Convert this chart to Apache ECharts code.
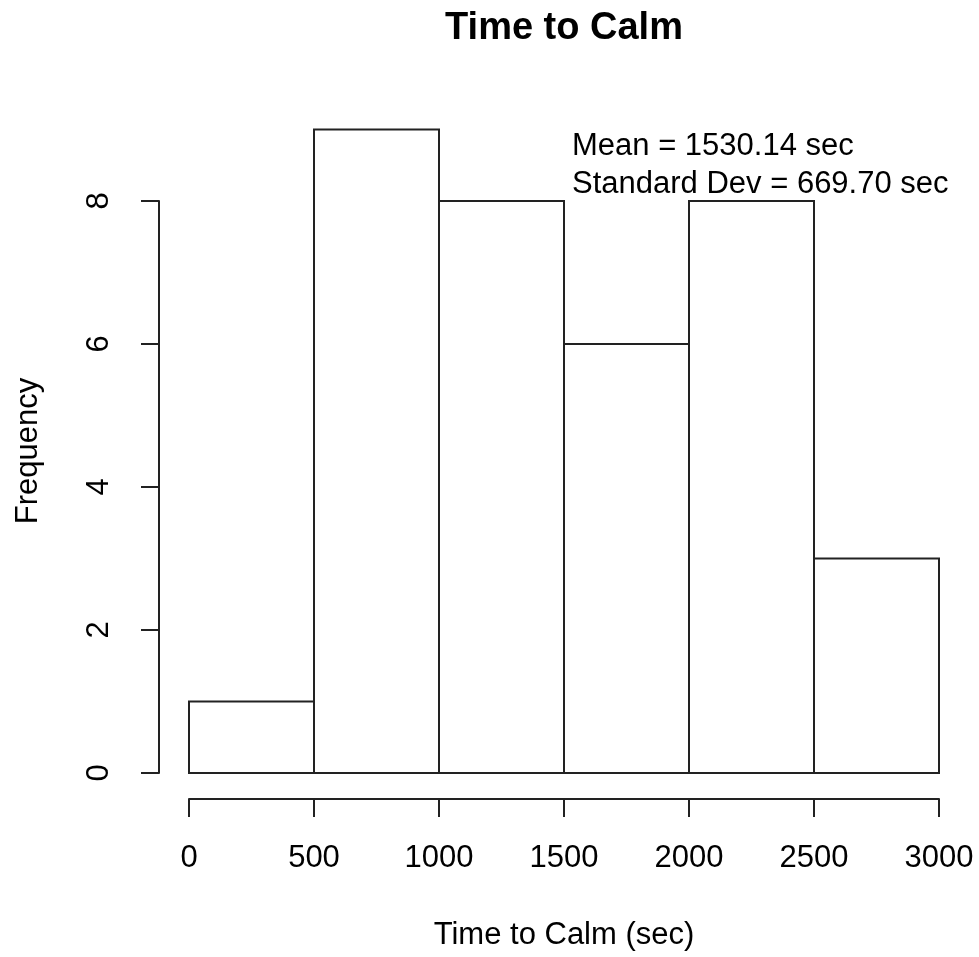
<!DOCTYPE html>
<html>
<head>
<meta charset="utf-8">
<script src="https://cdn.jsdelivr.net/npm/echarts@6/dist/echarts.min.js"></script>
<style>html,body{margin:0;padding:0;background:#fff;}#c{width:979px;height:957px;}</style>
</head>
<body>
<div id="c"></div>
<script>
const binStarts = [0, 500, 1000, 1500, 2000, 2500];
const binEnds = [500, 1000, 1500, 2000, 2500, 3000];
const counts = [1, 9, 8, 6, 8, 3];
const xTicks = [0, 500, 1000, 1500, 2000, 2500, 3000];
const yTicks = [0, 2, 4, 6, 8];
const titleText = 'Time to Calm';
const xLabel = 'Time to Calm (sec)';
const yLabel = 'Frequency';
const statLines = ['Mean = 1530.14 sec', 'Standard Dev = 669.70 sec'];

const FONT = '"Liberation Sans", Arial, sans-serif';
const LINE = '#222';
const chart = echarts.init(document.getElementById('c'), null, {renderer: 'canvas'});
const histData = binStarts.map((s, i) => [s, binEnds[i], counts[i]]);

chart.setOption({
  animation: false,
  backgroundColor: '#fff',
  grid: [
    {left: 189, top: 129.5, width: 750, height: 643.5},
    {left: 189, top: 201, width: 750, height: 572}
  ],
  xAxis: [
    {gridIndex: 0, type: 'value', min: xTicks[0], max: xTicks[xTicks.length - 1], show: false},
    {gridIndex: 1, type: 'value', min: xTicks[0], max: xTicks[xTicks.length - 1], interval: 500,
      offset: 26, position: 'bottom', z: 10,
      axisLine: {show: true, onZero: false, lineStyle: {color: LINE, width: 2}},
      axisTick: {show: true, length: 18, lineStyle: {color: LINE, width: 2}},
      axisLabel: {show: true, margin: 44, color: '#000', fontSize: 31, fontFamily: FONT,
        showMinLabel: true, showMaxLabel: true, formatter: v => String(v)},
      splitLine: {show: false}}
  ],
  yAxis: [
    {gridIndex: 0, type: 'value', min: 0, max: 9, show: false},
    {gridIndex: 1, type: 'value', min: yTicks[0], max: yTicks[yTicks.length - 1], interval: 2,
      offset: 30, position: 'left', z: 10,
      axisLine: {show: true, onZero: false, lineStyle: {color: LINE, width: 2}},
      axisTick: {show: true, length: 18, lineStyle: {color: LINE, width: 2}},
      axisLabel: {show: true, rotate: 90, margin: 44, color: '#000', fontSize: 31, fontFamily: FONT,
        formatter: v => String(v)},
      splitLine: {show: false}}
  ],
  series: [{
    type: 'custom',
    xAxisIndex: 0, yAxisIndex: 0,
    data: histData,
    encode: {x: [0, 1], y: 2},
    renderItem: function (params, api) {
      const p0 = api.coord([api.value(0), 0]);
      const p1 = api.coord([api.value(1), api.value(2)]);
      return {
        type: 'rect',
        shape: {x: p0[0], y: p1[1], width: p1[0] - p0[0], height: p0[1] - p1[1]},
        style: {fill: '#fff', stroke: LINE, lineWidth: 2}
      };
    }
  }],
  graphic: [
    {type: 'text', x: 564, y: 29, style: {text: titleText, font: 'bold 38px ' + FONT, fill: '#000', align: 'center', verticalAlign: 'middle'}},
    {type: 'text', x: 564, y: 935, style: {text: xLabel, font: '31px ' + FONT, fill: '#000', align: 'center', verticalAlign: 'middle'}},
    {type: 'text', x: 28, y: 451, rotation: Math.PI / 2, style: {text: yLabel, font: '31px ' + FONT, fill: '#000', align: 'center', verticalAlign: 'middle'}},
    {type: 'text', x: 572, y: 146, style: {text: statLines[0], font: '31px ' + FONT, fill: '#000', align: 'left', verticalAlign: 'middle'}},
    {type: 'text', x: 572, y: 184, style: {text: statLines[1], font: '31px ' + FONT, fill: '#000', align: 'left', verticalAlign: 'middle'}}
  ]
});
</script>
</body>
</html>
